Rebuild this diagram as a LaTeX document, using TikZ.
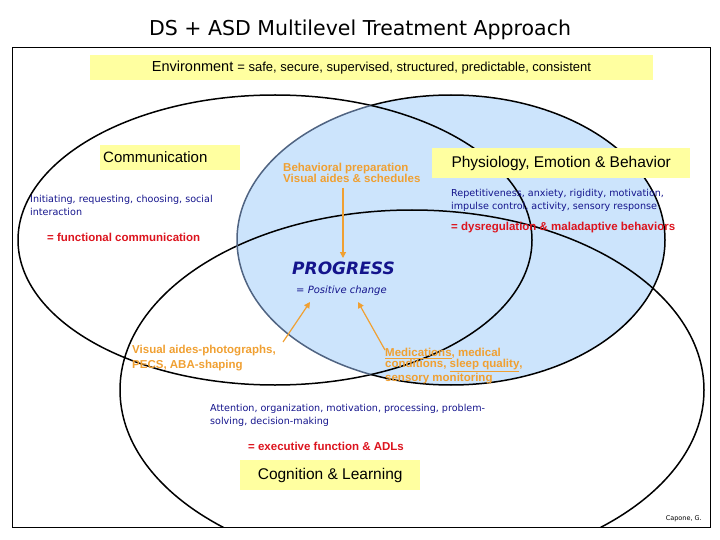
\documentclass[tikz,border=0pt]{standalone}
\usepackage{fontspec}
\setmainfont{DejaVu Sans}
\newfontfamily\arial{Liberation Sans}
\usetikzlibrary{arrows.meta}
\definecolor{ybox}{RGB}{255,255,160}
\definecolor{lblue}{RGB}{204,228,252}
\definecolor{slate}{RGB}{80,100,130}
\definecolor{org}{RGB}{240,160,50}
\definecolor{navy}{RGB}{20,20,140}
\definecolor{dred}{RGB}{220,20,30}
\begin{document}
\begin{tikzpicture}[x=1pt,y=-1pt,
  yb/.style={fill=ybox,draw=none,inner sep=0pt},
  small/.style={font=\fontsize{9.6}{13.5}\selectfont,align=left,anchor=north west,inner sep=0},
  redt/.style={anchor=west,inner sep=0,text=dred,font=\arial\bfseries\fontsize{11.5}{13}\selectfont},
  orgt/.style={anchor=north west,inner sep=0,text=org,align=left,font=\arial\bfseries\fontsize{11.5}{11}\selectfont},
  oar/.style={draw=org,line width=1.2pt,-{Triangle[length=6pt,width=6pt]}}]
\useasboundingbox (0,0) rectangle (720,540);
\begin{scope}
\clip (12,47) rectangle (710,527);
\fill[lblue] (451,240) ellipse [x radius=214, y radius=145];
\draw[line width=1.5pt] (275,240) ellipse [x radius=257, y radius=145];
\draw[line width=1.5pt] (412,390) ellipse [x radius=292, y radius=180];
\begin{scope}
\clip (275,240) ellipse [x radius=257, y radius=145];
\draw[slate,line width=1.5pt] (451,240) ellipse [x radius=214, y radius=145];
\end{scope}
\begin{scope}
\clip (275,240) ellipse [x radius=257, y radius=145] (0,0) rectangle (720,540);
\draw[line width=1.5pt,even odd rule] (451,240) ellipse [x radius=214, y radius=145];
\end{scope}
\end{scope}
\draw[line width=0.6pt] (12,47) rectangle (710,527);
\node (title) at (360,30) {\fontsize{20.5}{24}\selectfont DS + ASD Multilevel Treatment Approach};
\node[yb,minimum width=563,minimum height=25] (env) at (371.5,67.5) {\arial\fontsize{14.5}{16}\selectfont Environment {\fontsize{13}{16}\selectfont= safe, secure, supervised, structured, predictable, consistent}};
\node[yb,minimum width=140,minimum height=25,anchor=north west] (comm) at (100,145) {};
\node[anchor=west,inner sep=0] (commt) at (103,157) {\arial\fontsize{15}{17}\selectfont Communication};
\node[yb,minimum width=258,minimum height=30,anchor=north west] (phys) at (432,148) {\arial\fontsize{15.5}{17}\selectfont Physiology, Emotion \& Behavior};
\node[yb,minimum width=180,minimum height=30,anchor=north west] (cog) at (240,460) {\arial\fontsize{15.5}{17}\selectfont Cognition \& Learning};
\node[small,text=navy] (init) at (30,195) {Initiating, requesting, choosing, social\\interaction};
\node[redt] (fc) at (47,237) {= functional communication};
\node[orgt] (bp) at (283,163) {Behavioral preparation\\Visual aides \& schedules};
\node[small,text=navy] (rep) at (451,189) {Repetitiveness, anxiety, rigidity, motivation,\\impulse control, activity, sensory response};
\node[redt] (dys) at (451,228) {= dysregulation \& maladaptive behaviors};
\node[anchor=west,inner sep=0,text=navy] (prog) at (292,268) {\bfseries\itshape\fontsize{17}{19}\selectfont PROGRESS};
\node[anchor=west,inner sep=0,text=navy] (pc) at (296,291) {\itshape\fontsize{10}{12}\selectfont = Positive change};
\node[orgt,font=\arial\bfseries\fontsize{11.5}{15}\selectfont] (va) at (132,345) {Visual aides-photographs,\\PECS, ABA-shaping};
\node[orgt] (med) at (385,348) {\underline{Medications}, medical\\conditions, \underline{sleep quality},\\sensory monitoring};
\node[small,text=navy] (att) at (210,404) {Attention, organization, motivation, processing, problem-\\solving, decision-making};
\node[redt] (ef) at (248,446) {= executive function \& ADLs};
\node[anchor=east,inner sep=0] (cap) at (702,519) {\fontsize{6.5}{8}\selectfont Capone, G.};
\coordinate (a1) at (343,188); \coordinate (b1) at (343,258);
\coordinate (a2) at (283,342); \coordinate (b2) at (310,302);
\coordinate (a3) at (385,350); \coordinate (b3) at (358,302);
\draw[oar] (a1) -- (b1);
\draw[oar] (a2) -- (b2);
\draw[oar] (a3) -- (b3);
\end{tikzpicture}
\end{document}
